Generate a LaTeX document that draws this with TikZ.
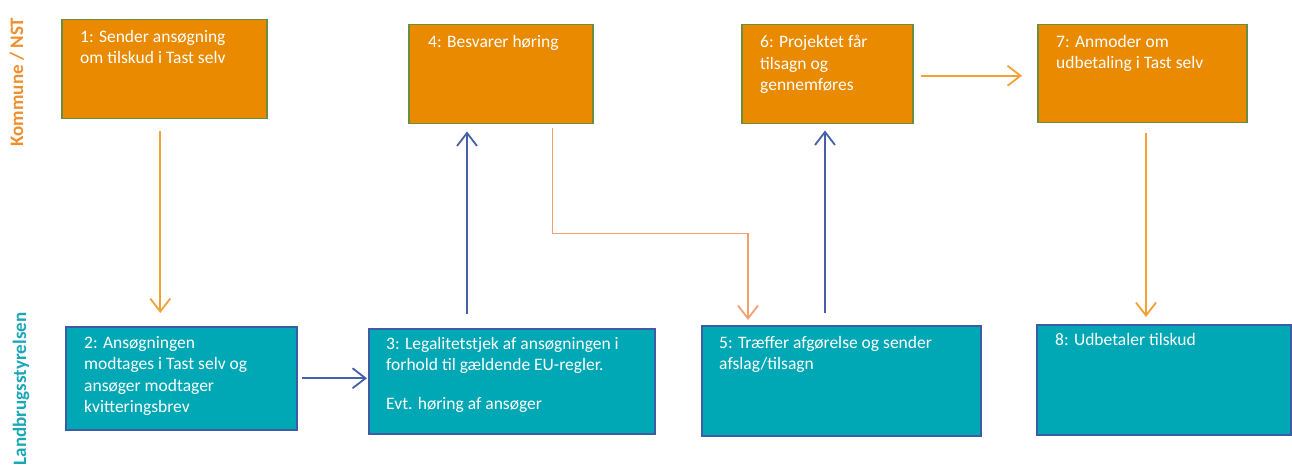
\documentclass[tikz,border=0pt]{standalone}
\usepackage{fontspec}
\setmainfont{Carlito}
\usetikzlibrary{arrows.meta,positioning}
\definecolor{kfill}{HTML}{E98A00}
\definecolor{kline}{HTML}{6B8E3E}
\definecolor{lfill}{HTML}{00A7B5}
\definecolor{lline}{HTML}{3E5CA5}
\definecolor{oarrow}{HTML}{F3A035}
\definecolor{sarrow}{HTML}{F5A070}
\definecolor{barrow}{HTML}{4560A8}
\definecolor{ktext}{HTML}{EE8F2E}
\definecolor{ltext}{HTML}{1AA7B8}

\begin{document}
\begin{tikzpicture}[x=1pt,y=-1pt,
    kbox/.style={draw=kline, fill=kfill, line width=1.5pt, anchor=north west, inner sep=0pt},
    lbox/.style={draw=lline, fill=lfill, line width=1.5pt, anchor=north west, inner sep=0pt},
    btxt/.style={anchor=north west, inner sep=0pt, align=left, text=white,
        font=\fontsize{17.5}{21.5}\selectfont},
    lane/.style={rotate=90, font=\fontsize{19}{21}\selectfont\bfseries},
    tip/.style={-{Straight Barb[length=13pt,width=20pt,line width=1.8pt]}, line width=1.8pt},
    oarr/.style={tip, draw=oarrow},
    sarr/.style={tip, draw=sarrow},
    barr/.style={tip, draw=barrow}]
    \useasboundingbox (0,0) rectangle (1292,470);
    % lanes
    \node[lane, text=ktext] (kom) at (17,82) {Kommune / NST};
    \node[lane, text=ltext] (lst) at (21,389) {Landbrugsstyrelsen};
    % boxes
    \node[kbox, minimum width=205pt, minimum height=99pt] (b1) at (61,19) {};
    \node[lbox, minimum width=231pt, minimum height=103pt] (b2) at (65,326) {};
    \node[lbox, minimum width=286pt, minimum height=105pt] (b3) at (368,328) {};
    \node[kbox, minimum width=184pt, minimum height=99pt] (b4) at (408,24) {};
    \node[lbox, minimum width=279pt, minimum height=110pt] (b5) at (701,325) {};
    \node[kbox, minimum width=171pt, minimum height=99pt] (b6) at (741,24) {};
    \node[kbox, minimum width=209pt, minimum height=98pt] (b7) at (1037,24) {};
    \node[lbox, minimum width=254pt, minimum height=110pt] (b8) at (1036,324) {};
    % texts
    \node[btxt] (t1) at ([shift={(19pt,-11pt)}]b1.north west) {1: Sender ansøgning\\om tilskud i Tast selv};
    \node[btxt] (t2) at ([shift={(19pt,-10pt)}]b2.north west) {2: Ansøgningen\\modtages i Tast selv og\\ansøger modtager\\kvitteringsbrev};
    \node[btxt] (t3) at ([shift={(18pt,-9pt)}]b3.north west) {3: Legalitetstjek af ansøgningen i\\forhold til gældende EU-regler.\\[17pt]Evt. høring af ansøger};
    \node[btxt] (t4) at ([shift={(20pt,-11pt)}]b4.north west) {4: Besvarer høring};
    \node[btxt] (t5) at ([shift={(18pt,-11pt)}]b5.north west) {5: Træffer afgørelse og sender\\afslag/tilsagn};
    \node[btxt] (t6) at ([shift={(19pt,-11pt)}]b6.north west) {6: Projektet får\\tilsagn og\\gennemføres};
    \node[btxt] (t7) at ([shift={(19pt,-11pt)}]b7.north west) {7: Anmoder om\\udbetaling i Tast selv};
    \node[btxt] (t8) at ([shift={(19pt,-9pt)}]b8.north west) {8: Udbetaler tilskud};
    % arrows
    \draw[oarr, shorten <=12pt, shorten >=13pt] ([xshift=-4pt]b1.south) -- ([xshift=-4pt]b1.south |- b2.north);
    \draw[barr, shorten <=4pt, shorten >=1pt] (b2.east) -- (b2.east -| b3.west);
    \draw[barr, shorten <=14pt, shorten >=7pt] ([xshift=59pt]b4.south west |- b3.north) -- ([xshift=59pt]b4.south west);
    \draw[sarr, shorten <=4pt, shorten >=5pt] ([xshift=-41pt]b4.south east) -- ++(0,-109pt) -| ([xshift=47pt]b5.north west);
    \draw[barr, shorten <=12pt, shorten >=6pt] ([xshift=84pt]b6.south west |- b5.north) -- ([xshift=84pt]b6.south west);
    \draw[oarr, shorten <=7pt, shorten >=15pt] ([yshift=-1.5pt]b6.east) -- ([yshift=-1.5pt]b6.east -| b7.west);
    \draw[oarr, shorten <=10pt, shorten >=7pt] ([xshift=109pt]b7.south west) -- ([xshift=109pt]b7.south west |- b8.north);
\end{tikzpicture}
\end{document}
